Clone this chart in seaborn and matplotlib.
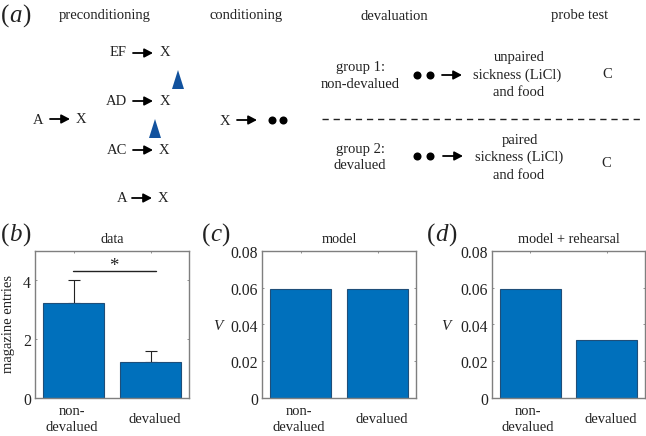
import matplotlib
matplotlib.use("Agg")
import matplotlib.pyplot as plt
from matplotlib.transforms import ScaledTranslation
import seaborn as sns
import pandas as pd

sns.set_theme(style="white")
plt.rcParams['font.family'] = ['Liberation Serif', 'DejaVu Serif']
plt.rcParams['mathtext.fontset'] = 'stix'

W, H = 646, 436
categories = ["non-\ndevalued", "devalued"]
data_vals = [3.22, 1.22]
data_err = [0.78, 0.35]
model_vals = [0.059, 0.059]
rehearsal_vals = [0.059, 0.0315]
BLUE = "#0070BC"
EDGE = "#1F4E79"
GRAY = "#7F7F7F"
FS = 10.5

fig = plt.figure(figsize=(W / 100, H / 100), dpi=100, facecolor="white")

def make_axes(l, r, t, b):
    return fig.add_axes([l / W, 1 - b / H, (r - l) / W, (b - t) / H])

def panel(ax, vals, ylim, yticks, ylabels, title, err=None):
    df = pd.DataFrame({"group": categories, "value": vals})
    sns.barplot(df, x="group", y="value", ax=ax, color=BLUE, saturation=1, width=0.8,
                edgecolor=EDGE, linewidth=0.8, errorbar=None)
    if err is not None:
        ax.errorbar([0, 1], vals, yerr=[[0, 0], err], fmt="none", ecolor="#222222",
                    elinewidth=0.8, capsize=4, capthick=0.8, zorder=1)
        for p in ax.patches:
            p.set_zorder(2)
    ax.set_xlim(-0.5, 1.5)
    ax.set_ylim(*ylim)
    ax.set_yticks(yticks, ylabels)
    ax.set_xticks([0, 1], categories)
    ax.tick_params(axis="both", which="both", direction="in", length=1.5, width=0.6,
                   color=GRAY, top=True, right=True, left=True, bottom=True,
                   labelsize=FS + 0.8, labelcolor="#222222")
    ax.tick_params(axis="x", pad=16, labelsize=FS)
    ax.tick_params(axis="y", pad=3)
    for i, lab in enumerate(ax.get_xticklabels()):
        lab.set_verticalalignment("center")
        lab.set_linespacing(1.25)
        dx = -2 if i == 0 else 4
        lab.set_transform(lab.get_transform() + ScaledTranslation(dx / 100, 0, fig.dpi_scale_trans))
    for lab in ax.get_yticklabels():
        lab.set_transform(lab.get_transform() + ScaledTranslation(0, -1.5 / 100, fig.dpi_scale_trans))
    for s in ax.spines.values():
        s.set_color(GRAY)
        s.set_linewidth(1.0)
    ax.set_xlabel("")
    ax.set_ylabel("")
    ax.set_title(title, fontsize=FS - 0.2, color="#222222", pad=6)

ax_b = make_axes(35, 189, 251, 397.5)
ax_c = make_axes(262, 416, 251, 397.5)
ax_d = make_axes(492, 645, 251, 397.5)

panel(ax_b, data_vals, (0, 5), [0, 2, 4], ["0", "2", "4"], "data", err=data_err)
v_ticks = [0, 0.02, 0.04, 0.06, 0.08]
v_labels = ["0", "0.02", "0.04", "0.06", "0.08"]
panel(ax_c, model_vals, (0, 0.08), v_ticks, v_labels, "model")
panel(ax_d, rehearsal_vals, (0, 0.08), v_ticks, v_labels, "model + rehearsal")

# Overlay in pixel coordinates for the diagram and free labels
ov = fig.add_axes([0, 0, 1, 1], zorder=10)
ov.set_xlim(0, W)
ov.set_ylim(H, 0)
ov.axis("off")

def t(x, y, s, size=FS, **kw):
    kw.setdefault("ha", "center")
    kw.setdefault("va", "center")
    kw.setdefault("color", "#222222")
    ov.text(x, y, s, fontsize=size, **kw)

def arrow(x0, x1, y):
    ov.annotate("", xy=(x1, y), xytext=(x0, y),
                arrowprops=dict(arrowstyle="-|>,head_width=0.22,head_length=0.42",
                                color="black", lw=1.3, shrinkA=0, shrinkB=0))

def dots(xs, y):
    ov.plot(xs, [y] * len(xs), "o", color="black", ms=5.8, mew=0)

for x, y, s in [(105, 16, "preconditioning"), (246, 16, "conditioning"),
                (394, 16, "devaluation"), (580, 16, "probe test")]:
    t(x, y, s)

for x, y, s, off in [(9, 16, "a", 13.5), (9, 235, "b", 13.5), (210, 235, "c", 11.5), (435, 235, "d", 13.5)]:
    t(x, y, "(", size=18, ha="right")
    t(x, y, s, size=18, ha="left", style="italic")
    t(x + off, y, ")", size=18, ha="left")

# Preconditioning rows
rows = [("EF", 118, 165, 53, 133, 153), ("AD", 116, 165, 101, 133, 153),
        ("AC", 117, 164, 150, 133, 153), ("A", 122, 163, 198, 132, 152)]
for lab, xl, xr, y, a0, a1 in rows:
    t(xl, y, lab)
    t(xr, y, "X")
    arrow(a0, a1, y)
t(38, 120, "A")
t(81, 119, "X")
arrow(50, 70, 119)

# Up triangles (blue)
for x, ytop, ybot in [(178, 70, 89), (155, 119, 138)]:
    ov.fill([x - 6, x + 6, x], [ybot, ybot, ytop], color="#12529E", lw=0)

# Conditioning
t(225, 121, "X")
arrow(237, 257, 120)
dots([272, 283], 120)

# Devaluation
t(360, 67, "group 1:")
t(360, 84, "non-devalued")
dots([417, 430], 75)
arrow(442, 462, 75)
t(519, 58, "unpaired")
t(517, 75, "sickness (LiCl)")
t(519, 93, "and food")
t(607, 75, "C")
ov.plot([322, 642], [119, 119], color="#222222", lw=1.0, dashes=(4.5, 3.5))
t(360, 149, "group 2:")
t(360, 165, "devalued")
dots([417, 430], 156)
arrow(443, 463, 156)
t(520, 140, "paired")
t(519, 157, "sickness (LiCl)")
t(519, 175, "and food")
t(606, 163, "C")

# Panel b annotations
ov.plot([73, 156], [271, 271], color="#222222", lw=1.0)
t(114, 266, "*", size=FS + 3)
t(9, 324, "magazine entries", rotation=90)
t(218, 326, "V", style="italic", size=FS + 0.5)
t(446, 326, "V", style="italic", size=FS + 0.5)

fig.savefig("out.png", dpi=100, facecolor="white")
